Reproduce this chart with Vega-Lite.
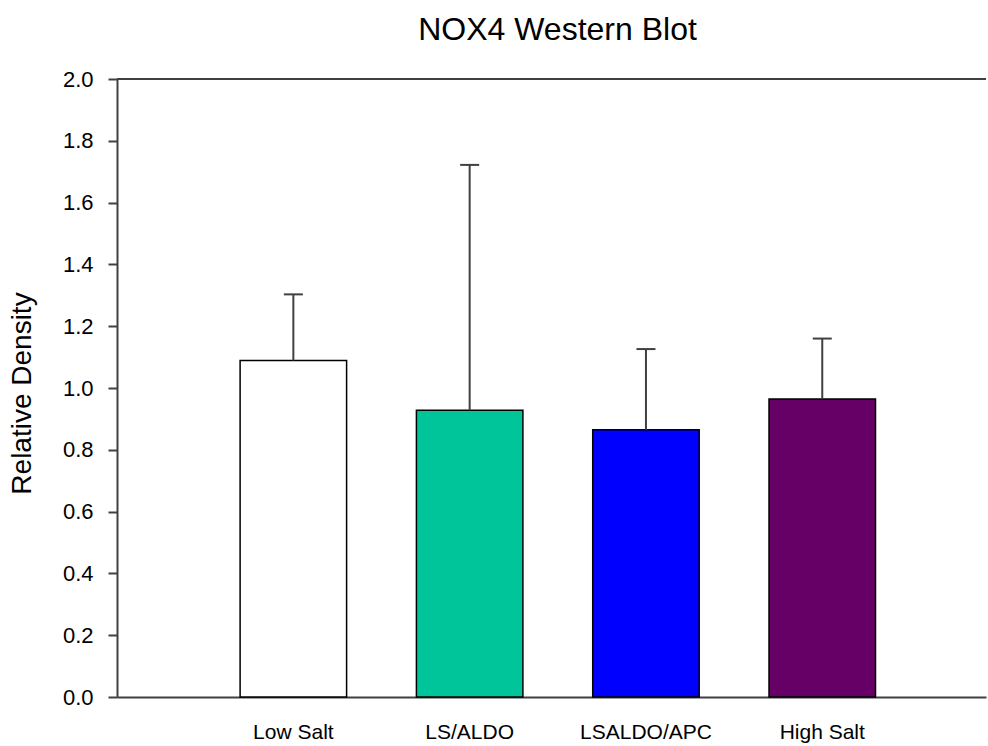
{
  "$schema": "https://vega.github.io/schema/vega-lite/v6.json",
  "autosize": {"type": "none"},
  "width": 869,
  "height": 618,
  "padding": {"left": 117, "top": 79, "right": 2, "bottom": 49},
  "background": "white",
  "config": {
    "view": {"stroke": null},
    "font": "Liberation Sans",
    "axis": {"grid": false}
  },
  "title": {
    "text": "NOX4 Western Blot",
    "fontSize": 32,
    "fontWeight": "normal",
    "font": "Liberation Sans",
    "color": "black",
    "anchor": "middle",
    "offset": 21,
    "dx": 6
  },
  "data": {
    "values": [
      {"group": "Low Salt", "mean": 1.089, "upper": 1.303},
      {"group": "LS/ALDO", "mean": 0.928, "upper": 1.722},
      {"group": "LSALDO/APC", "mean": 0.865, "upper": 1.126},
      {"group": "High Salt", "mean": 0.964, "upper": 1.160}
    ]
  },
  "encoding": {
    "x": {
      "field": "group",
      "type": "nominal",
      "sort": ["Low Salt", "LS/ALDO", "LSALDO/APC", "High Salt"],
      "scale": {"paddingInner": 0.396, "paddingOuter": 0.6625, "align": 0.527},
      "axis": {
        "title": null,
        "labelAngle": 0,
        "ticks": false,
        "labelFontSize": 21,
        "labelColor": "black",
        "labelPadding": 24,
        "domainColor": "#404040",
        "domainWidth": 2
      }
    }
  },
  "layer": [
    {
      "mark": {"type": "bar", "stroke": "black", "strokeWidth": 1.5},
      "encoding": {
        "y": {
          "field": "mean",
          "type": "quantitative",
          "scale": {"domain": [0, 2], "nice": false, "zero": true},
          "axis": {
            "title": "Relative Density",
            "titleFontSize": 28,
            "titleFontWeight": "normal",
            "titleColor": "black",
            "titleX": -95,
            "titleY": 314,
            "titleAlign": "center",
            "titleBaseline": "middle",
            "titleAngle": -90,
            "values": [0, 0.2, 0.4, 0.6, 0.8, 1.0, 1.2, 1.4, 1.6, 1.8, 2.0],
            "format": ".1f",
            "labelFontSize": 22,
            "labelColor": "black",
            "labelPadding": 15,
            "tickSize": 9,
            "tickWidth": 2,
            "tickColor": "#404040",
            "domainColor": "#404040",
            "domainWidth": 2
          }
        },
        "fill": {
          "field": "group",
          "type": "nominal",
          "scale": {
            "domain": ["Low Salt", "LS/ALDO", "LSALDO/APC", "High Salt"],
            "range": ["#ffffff", "#00c49a", "#0000ff", "#660066"]
          },
          "legend": null
        }
      }
    },
    {
      "mark": {"type": "rule", "color": "#404040", "strokeWidth": 2},
      "encoding": {
        "y": {"field": "mean", "type": "quantitative"},
        "y2": {"field": "upper"}
      }
    },
    {
      "mark": {"type": "tick", "orient": "horizontal", "size": 19, "thickness": 2, "color": "#404040", "opacity": 1},
      "encoding": {
        "y": {"field": "upper", "type": "quantitative"}
      }
    },
    {
      "data": {"values": [{"top": 2}]},
      "mark": {"type": "rule", "color": "#404040", "strokeWidth": 2},
      "encoding": {
        "y": {"field": "top", "type": "quantitative"},
        "x": {"value": 0},
        "x2": {"value": 869}
      }
    }
  ]
}
